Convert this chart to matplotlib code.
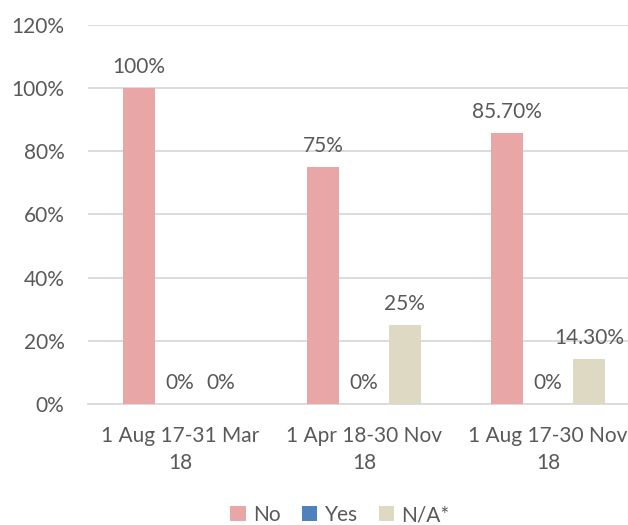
import numpy as np
import matplotlib
matplotlib.use('Agg')
import matplotlib.pyplot as plt

categories = ['1 Aug 17-31 Mar\n18', '1 Apr 18-30 Nov\n18', '1 Aug 17-30 Nov\n18']
series = ['No', 'Yes', 'N/A*']
no_vals = [100, 75, 85.7]
yes_vals = [0, 0, 0]
na_vals = [0, 25, 14.3]
no_labels = ['100%', '75%', '85.70%']
yes_labels = ['0%', '0%', '0%']
na_labels = ['0%', '25%', '14.30%']

colors = ['#E8A6A6', '#4F81BD', '#DDD9C3']
text_col = '#595959'
fs = 15

plt.rcParams['font.family'] = ['Lato', 'DejaVu Sans']

fig = plt.figure(figsize=(6.28, 5.25), dpi=100)
ax = fig.add_axes([88 / 628, 121 / 525, 552 / 628, 379 / 525])

x = np.arange(len(categories))
w = 0.174
off = 0.222
for i, (vals, labs) in enumerate([(no_vals, no_labels), (yes_vals, yes_labels), (na_vals, na_labels)]):
    pos = x + (i - 1) * off
    ax.bar(pos, vals, width=w, color=colors[i], label=series[i], zorder=3)
    for p, v, t in zip(pos, vals, labs):
        ax.annotate(t, (p, v), xytext=(0, 8), textcoords='offset points',
                    ha='center', va='bottom', fontsize=fs, color=text_col)

ax.set_xlim(-0.5, 2.5)
ax.set_ylim(0, 120)
ax.set_yticks(range(0, 121, 20))
ax.set_yticklabels(['%d%%' % v for v in range(0, 121, 20)])
ax.set_xticks(x)
ax.set_xticklabels(categories, linespacing=1.45)
ax.tick_params(axis='both', length=0, labelsize=fs, colors=text_col)
ax.tick_params(axis='x', pad=16)
ax.tick_params(axis='y', pad=17)
ax.grid(axis='y', color='#D9D9D9', linewidth=1.3, zorder=0)
for s in ['top', 'right', 'left']:
    ax.spines[s].set_visible(False)
ax.spines['bottom'].set_color('#D9D9D9')
ax.spines['bottom'].set_linewidth(1.3)

fig.legend(loc='center', bbox_to_anchor=(340 / 628, 10 / 525), ncol=3, frameon=False,
           fontsize=fs, labelcolor=text_col, handlelength=0.75, handleheight=0.75,
           handletextpad=0.35, columnspacing=1.0)

plt.savefig('out.png', dpi=100)
